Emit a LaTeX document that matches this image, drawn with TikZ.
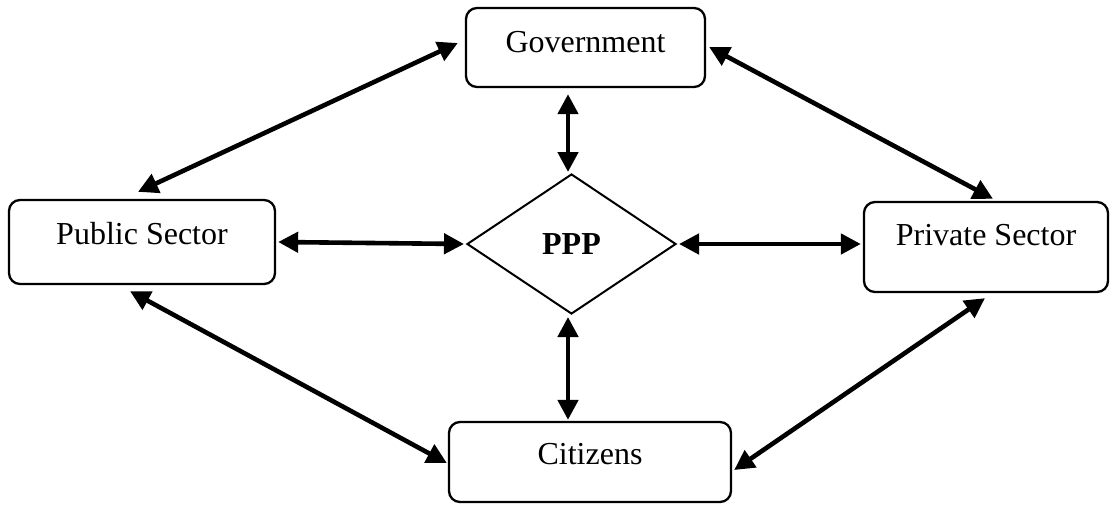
\documentclass[tikz,border=0pt]{standalone}
\usepackage{fontspec}
\setmainfont{Liberation Serif}
\usetikzlibrary{arrows.meta,shapes.geometric,calc}

\tikzset{
  box/.style={draw, line width=2.3pt, rounded corners=11pt, inner sep=0pt,
    font=\fontsize{32}{38}\selectfont, text height=22pt},
  hub/.style={draw, line width=2pt, shape=diamond, inner sep=0pt,
    minimum width=209pt, minimum height=140pt,
    font=\fontsize{32}{38}\selectfont\bfseries},
  link/.style={line width=4.6pt, {Triangle[length=20pt,width=20pt]}-{Triangle[length=20pt,width=20pt]}}
}

\begin{document}
\begin{tikzpicture}[x=1pt,y=-1pt]
\useasboundingbox (0,0) rectangle (1118,504);

% stakeholders
\node[box, minimum width=239pt, minimum height=79pt, text depth=13pt] (gov) at (585.5,47.5) {Government};
\node[box, minimum width=266pt, minimum height=84pt, text depth=18pt] (pub) at (142,242) {Public Sector};
\node[box, minimum width=244pt, minimum height=90pt, text depth=26pt] (pri) at (986,247) {Private Sector};
\node[box, minimum width=282pt, minimum height=80pt, text depth=18pt] (cit) at (590,462) {Citizens};

% partnership hub
\node[hub] (ppp) at (571.5,244) {PPP};

% links between the parties
\draw[link] ($(gov.west)+(-7,-4.5)$) -- ($(pub.north)+(-4,-7)$);
\draw[link] ($(gov.east)+(3,-0.5)$) -- ($(pri.north)+(7,-2)$);
\draw[link] ($(gov.south)+(-17.5,6)$) -- ($(ppp.north)+(-3.5,-1)$);
\draw[link] ($(pub.east)+(2,0)$) -- ($(ppp.west)+(-2,0)$);
\draw[link] ($(ppp.east)+(2,0)$) -- ($(pri.west)+(-2,-3)$);
\draw[link] ($(pub.south)+(-12,6)$) -- ($(cit.west)+(-1,1)$);
\draw[link] ($(cit.east)+(2,8)$) -- ($(pri.south)+(-1,5)$);
\draw[link] ($(ppp.south)+(-3.5,2)$) -- ($(cit.north)+(-22,-1)$);
\end{tikzpicture}
\end{document}
